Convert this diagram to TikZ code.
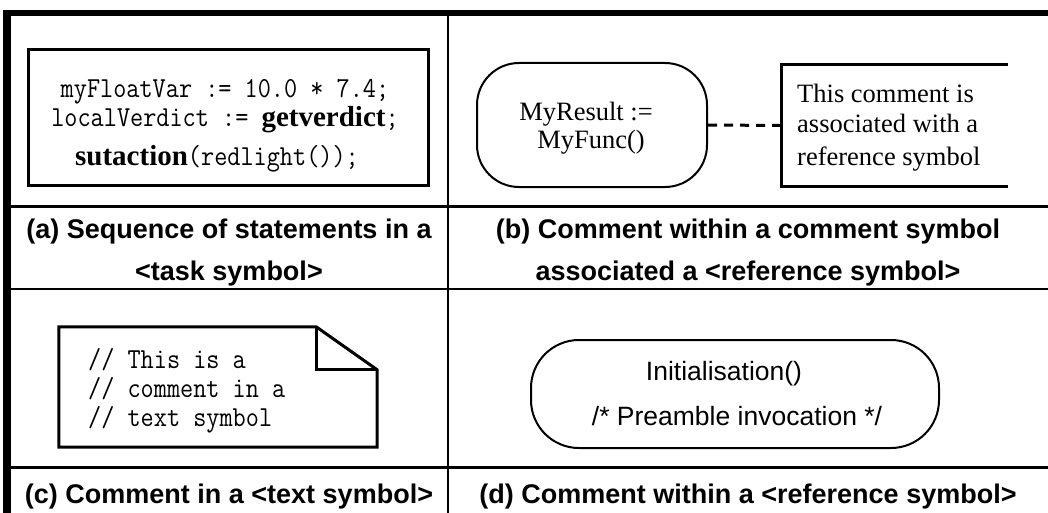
\documentclass[tikz,border=0pt]{standalone}
\usepackage{fontspec}
\setmainfont{Liberation Serif}
\newfontfamily\capsans{Liberation Sans}
\newfontfamily\codefont{Latin Modern Mono}[FakeStretch=0.88]
% bold keyword inside a code line
\newcommand\kw[1]{{\rmfamily\bfseries\fontsize{29}{30}\selectfont #1}}
\tikzset{
  grid/.style={line width=2.5pt},
  caption/.style={font=\capsans\bfseries\fontsize{27}{30}\selectfont, anchor=base, inner sep=0pt},
  code/.style={font=\codefont\fontsize{29}{30}\selectfont, anchor=base, inner sep=0pt},
  codeleft/.style={code, anchor=base west},
  serifnote/.style={font=\fontsize{26.5}{29}\selectfont, anchor=base, inner sep=0pt},
  serifleft/.style={serifnote, anchor=base west},
  sansnote/.style={font=\capsans\fontsize{26.5}{29}\selectfont, anchor=base, inner sep=0pt},
  taskbox/.style={draw, line width=3pt, inner sep=0pt},
  refbox/.style={draw, line width=2pt, inner sep=0pt},
  plainbox/.style={inner sep=0pt},
  sym/.style={line width=3pt, line join=miter},
  assoc/.style={line width=3pt, dash pattern=on 9pt off 7pt}
}
\begin{document}
\begin{tikzpicture}[x=1pt,y=-1pt]
\useasboundingbox (0,0) rectangle (1048,513);

% table frame
\fill (3,10) rectangle (1048,16);
\fill (3,10) rectangle (11,513);
\draw[line width=2pt] (447.5,16) -- (447.5,513);
\draw[grid] (11,206.5) -- (1048,206.5);
\draw[grid] (11,289) -- (1048,289);
\draw[grid] (11,467.5) -- (1048,467.5);

% (a) task symbol
\node[taskbox, minimum width=400pt, minimum height=135pt] (task) at (228,117.5) {};
\node[code] (a1) at (225,98) {myFloatVar := 10.0 * 7.4;};
\node[code] (a2) at (225,127) {localVerdict := \kw{getverdict};};
\node[code] (a3) at (217,165) {\kw{sutaction}(redlight());};

% (b) reference symbol with an attached comment symbol
\node[refbox, rounded corners=42pt, minimum width=230pt, minimum height=124pt] (ref) at (592,125) {};
\node[serifnote] (r1) at (586,121) {MyResult :=};
\node[serifnote] (r2) at (591,149) {MyFunc()};
\node[plainbox, minimum width=226pt, minimum height=121pt] (cmt) at (895,125.5) {};
\draw[sym] (cmt.north east) -- (cmt.north west) -- (cmt.south west) -- (cmt.south east);
\draw[assoc] (ref.east) -- (cmt.west);
\node[serifleft] (c1) at (797,103) {This comment is};
\node[serifleft] (c2) at (797,133) {associated with a};
\node[serifleft] (c3) at (797,165) {reference symbol};

% (c) text symbol with folded corner
\node[plainbox, minimum width=318pt, minimum height=120pt] (tsym) at (218,387) {};
\draw[sym] (tsym.south west) -- (tsym.north west) -- ([xshift=-61pt]tsym.north east)
  -- ([yshift=-43pt]tsym.north east) -- (tsym.south east) -- cycle;
\draw[sym] ([xshift=-61pt]tsym.north east) |- ([yshift=-43pt]tsym.north east);
\node[codeleft] (t1) at (88,368) {// This is a};
\node[codeleft] (t2) at (88,397) {// comment in a};
\node[codeleft] (t3) at (88,426) {// text symbol};

% (d) reference symbol holding a comment
\node[refbox, rounded corners=48pt, minimum width=408pt, minimum height=108pt] (pre) at (735,394) {};
\node[sansnote] (d1) at (724,380) {Initialisation()};
\node[sansnote] (d2) at (737,425) {/* Preamble invocation */};

% captions
\node[caption] (capa1) at (229,238) {(a) Sequence of statements in a};
\node[caption] (capa2) at (229,280) {<task symbol>};
\node[caption] (capb1) at (748,238) {(b) Comment within a comment symbol};
\node[caption] (capb2) at (748,280) {associated a <reference symbol>};
\node[caption] (capc) at (229,503) {(c) Comment in a <text symbol>};
\node[caption] (capd) at (748,503) {(d) Comment within a <reference symbol>};
\end{tikzpicture}
\end{document}
